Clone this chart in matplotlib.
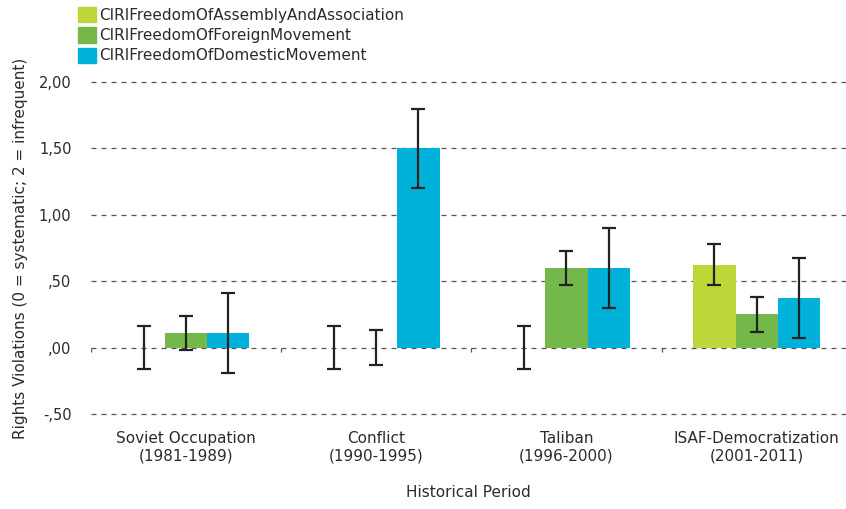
import numpy as np
import matplotlib.pyplot as plt
from matplotlib.patches import Patch

periods = ['Soviet Occupation\n(1981-1989)', 'Conflict\n(1990-1995)',
           'Taliban\n(1996-2000)', 'ISAF-Democratization\n(2001-2011)']
series = ['CIRIFreedomOfAssemblyAndAssociation', 'CIRIFreedomOfForeignMovement',
          'CIRIFreedomOfDomesticMovement']
assembly = [0.0, 0.0, 0.0, 0.625]
assembly_err = [0.16, 0.16, 0.16, 0.155]
foreign = [0.11, 0.0, 0.60, 0.25]
foreign_err = [0.125, 0.13, 0.13, 0.13]
domestic = [0.11, 1.50, 0.60, 0.375]
domestic_err = [0.30, 0.30, 0.30, 0.30]
colors = ['#bed63a', '#74b84b', '#00b2d9']
yticks = [-0.5, 0.0, 0.5, 1.0, 1.5, 2.0]
ytick_labels = ['-,50', ',00', ',50', '1,00', '1,50', '2,00']

plt.rcParams['font.family'] = ['DejaVu Sans']
txt = '#2b2b2b'

fig = plt.figure(figsize=(8.46, 5.09), dpi=100)
ax = fig.add_axes([91 / 846, 1 - 414 / 509, (846 - 91) / 846, (414 - 82) / 509])

x = np.arange(len(periods))
w = 0.222
for i, (vals, errs) in enumerate([(assembly, assembly_err), (foreign, foreign_err),
                                   (domestic, domestic_err)]):
    ax.bar(x + (i - 1) * w, vals, w, color=colors[i], zorder=2)
    ax.errorbar(x + (i - 1) * w, vals, yerr=errs, fmt='none', ecolor='#222222',
                elinewidth=1.6, capsize=5, capthick=1.6, zorder=3)

ax.set_ylim(-0.5, 2.0)
ax.set_xlim(-0.5, 3.47)
ax.set_yticks(yticks)
ax.set_yticklabels(ytick_labels, color=txt, fontsize=10.5)
ax.yaxis.grid(True, linestyle=(0, (4, 4)), color='#555555', linewidth=0.9, zorder=1)
for gl in ax.get_ygridlines():
    gl.set_clip_on(False)
ax.set_xticks(x)
ax.set_xticklabels(periods, color=txt, fontsize=11)
ax.tick_params(axis='both', length=0)
ax.tick_params(axis='x', pad=12)
ax.tick_params(axis='y', pad=14)
for s in ax.spines.values():
    s.set_visible(False)
ax.vlines(np.arange(len(periods)) - 0.5, -0.035, 0, color='#555555', linewidth=0.9)

ax.set_ylabel('Rights Violations (0 = systematic; 2 = infrequent)', color=txt,
              fontsize=11, labelpad=8)
ax.set_xlabel('Historical Period', color=txt, fontsize=11, labelpad=16)

handles = [Patch(color=c) for c in colors]
fig.legend(handles, series, loc='upper left', bbox_to_anchor=(78 / 846, 1 - 7 / 509),
           frameon=False, fontsize=11, handlelength=1.15, handleheight=1.15,
           handletextpad=0.2, labelspacing=0.3, borderaxespad=0, borderpad=0,
           labelcolor=txt)

fig.savefig('out.png', dpi=100)
